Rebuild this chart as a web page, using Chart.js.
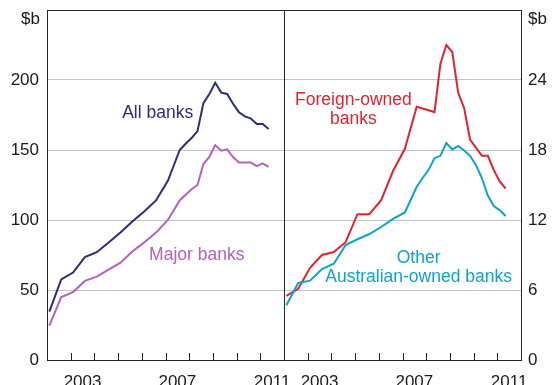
<!DOCTYPE html>
<html>
<head>
<meta charset="utf-8">
<script src="https://cdn.jsdelivr.net/npm/chart.js@4/dist/chart.umd.min.js"></script>
<style>
  html, body { margin: 0; padding: 0; background: #fff; }
  #wrap { position: relative; width: 556px; height: 385px; overflow: hidden; }
  .panel { position: absolute; top: 0; height: 385px; }
  #left { left: 0; width: 300px; }
  #right { left: 280px; width: 276px; }
</style>
</head>
<body>
<div id="wrap">
  <div class="panel" id="left"><canvas id="chart_left" width="300" height="385"></canvas></div>
  <div class="panel" id="right"><canvas id="chart_right" width="276" height="385"></canvas></div>
</div>
<script>
// half-yearly to end 2007, quarterly after that (decimal years)
var dates = [2002.1, 2002.6, 2003.1, 2003.6, 2004.1, 2004.6, 2005.1, 2005.6, 2006.1, 2006.6, 2007.1, 2007.6,
             2007.85, 2008.1, 2008.35, 2008.6, 2008.85, 2009.1, 2009.35, 2009.6, 2009.85, 2010.1, 2010.35,
             2010.6, 2010.85, 2011.1, 2011.35];

// $b
var allBanks = [34.5, 57.5, 62.5, 73.5, 77, 84, 91, 99, 106, 114, 128, 150,
                154.5, 158.5, 163.5, 183.5, 190, 198, 191, 190, 183, 177, 174, 172.5, 168.5, 168.5, 165];
var majorBanks = [24.5, 45, 48.5, 56.5, 59.5, 64.5, 69.5, 77.5, 84, 91, 100, 114,
                  118, 122, 125, 140, 145, 153.5, 149.5, 150.5, 145, 141, 141, 141, 138.5, 140.5, 138];
var foreignBanks = [5.5, 6.1, 7.9, 9.0, 9.25, 10.1, 12.5, 12.5, 13.7, 16.2, 18.1, 21.7,
                    21.55, 21.4, 21.25, 25.4, 27, 26.4, 22.9, 21.6, 18.9, 18.2, 17.5, 17.5, 16.3, 15.3, 14.7];
var otherAusBanks = [4.7, 6.6, 6.8, 7.8, 8.25, 9.85, 10.35, 10.8, 11.4, 12.1, 12.65, 14.85,
                     15.6, 16.3, 17.3, 17.5, 18.6, 18.05, 18.35, 17.95, 17.5, 16.7, 15.6, 14.1, 13.2, 12.85, 12.35];

var yearTicks = [2003, 2004, 2005, 2006, 2007, 2008, 2009, 2010, 2011];
var yearLabels = ['2003', '2007', '2011'];
var leftTicks = [0, 50, 100, 150, 200];
var rightTicks = [0, 6, 12, 18, 24];
var unitLabel = '$b';

var NAVY = '#2b2d78', PURPLE = '#b462bb', RED = '#df2430', CYAN = '#0ea2ca';
var FONT = '"Liberation Sans", Arial, sans-serif';

function pts(values) {
    return values.map(function (v, i) { return { x: dates[i], y: v }; });
}

function line(values, color) {
    return { data: pts(values), borderColor: color, borderWidth: 2, pointRadius: 0, tension: 0, fill: false };
}

// box, inward year ticks, unit label and line labels
var framePlugin = {
    id: 'frame',
    afterDraw: function (chart, args, opts) {
        var ctx = chart.ctx, a = chart.chartArea, xs = chart.scales.x, ys = chart.scales.y;
        ctx.save();
        ctx.strokeStyle = '#262626';
        ctx.lineWidth = 1;
        ctx.strokeRect(Math.round(a.left) + 0.5, Math.round(a.top) + 0.5,
                       Math.round(a.right - a.left), Math.round(a.bottom - a.top));
        ctx.beginPath();
        yearTicks.forEach(function (yr) {
            var px = Math.round(xs.getPixelForValue(yr)) + 0.5;
            ctx.moveTo(px, a.bottom);
            ctx.lineTo(px, a.bottom - 7);
        });
        ctx.stroke();

        ctx.fillStyle = '#1a1a1a';
        ctx.font = '17px ' + FONT;
        ctx.textBaseline = 'middle';
        if (opts.side === 'left') {
            ctx.textAlign = 'right';
            ctx.fillText(unitLabel, a.left - 7, a.top + 9);
        } else {
            ctx.textAlign = 'left';
            ctx.fillText(unitLabel, a.right + 7, a.top + 9);
        }

        ctx.font = '17.5px ' + FONT;
        ctx.textAlign = 'center';
        opts.notes.forEach(function (n) {
            var cx = xs.getPixelForValue(n.x), cy = ys.getPixelForValue(n.y);
            ctx.fillStyle = n.color;
            n.text.forEach(function (t, i) {
                ctx.fillText(t, cx, cy + (i - (n.text.length - 1) / 2) * 19);
            });
        });
        ctx.restore();
    }
};

function xAxis() {
    return {
        type: 'linear', min: 2002, max: 2012,
        afterBuildTicks: function (s) {
            s.ticks = yearLabels.map(function (y) { return { value: +y + 0.5 }; });
        },
        afterFit: function (s) { s.height = 25; s.paddingLeft = 0; s.paddingRight = 0; },
        ticks: {
            autoSkip: false, maxRotation: 0, padding: 4, color: '#1a1a1a',
            font: { family: FONT, size: 17 },
            callback: function (v) { return String(Math.floor(v)); }
        },
        grid: { display: false },
        border: { display: false }
    };
}

function yAxis(side, max, ticks, width, pad) {
    return {
        type: 'linear', position: side, min: 0, max: max,
        afterBuildTicks: function (s) {
            s.ticks = ticks.concat([max]).map(function (v) { return { value: v }; });
        },
        afterFit: function (s) { s.width = width; s.paddingTop = 0; s.paddingBottom = 0; },
        ticks: {
            padding: pad, color: '#1a1a1a',
            font: { family: FONT, size: 17 },
            callback: function (v) { return v === max ? '' : String(v); }
        },
        grid: { color: '#c4c4c4', lineWidth: 1, drawTicks: false },
        border: { display: false }
    };
}

function common(padding) {
    return {
        responsive: false,
        animation: false,
        devicePixelRatio: 1,
        layout: { padding: padding },
        plugins: { legend: { display: false }, tooltip: { enabled: false } }
    };
}

var leftOpts = common({ top: 10, right: 16, bottom: 0, left: 0 });
leftOpts.scales = { x: xAxis(), y: yAxis('left', 250, leftTicks, 47, 8) };
leftOpts.plugins.frame = {
    side: 'left',
    notes: [
        { text: ['All banks'], x: 2006.67, y: 176.5, color: NAVY },
        { text: ['Major banks'], x: 2008.32, y: 75, color: PURPLE }
    ]
};

new Chart(document.getElementById('chart_left'), {
    type: 'line',
    data: { datasets: [line(majorBanks, PURPLE), line(allBanks, NAVY)] },
    options: leftOpts,
    plugins: [framePlugin]
});

var rightOpts = common({ top: 10, right: 0, bottom: 0, left: 4 });
rightOpts.scales = { x: xAxis(), y: yAxis('right', 30, rightTicks, 35, 7) };
rightOpts.plugins.frame = {
    side: 'right',
    notes: [
        { text: ['Foreign-owned', 'banks'], x: 2004.93, y: 21.47, color: RED },
        { text: ['Other', 'Australian-owned banks'], x: 2007.68, y: 7.93, color: CYAN }
    ]
};

new Chart(document.getElementById('chart_right'), {
    type: 'line',
    data: { datasets: [line(otherAusBanks, CYAN), line(foreignBanks, RED)] },
    options: rightOpts,
    plugins: [framePlugin]
});
</script>
</body>
</html>
